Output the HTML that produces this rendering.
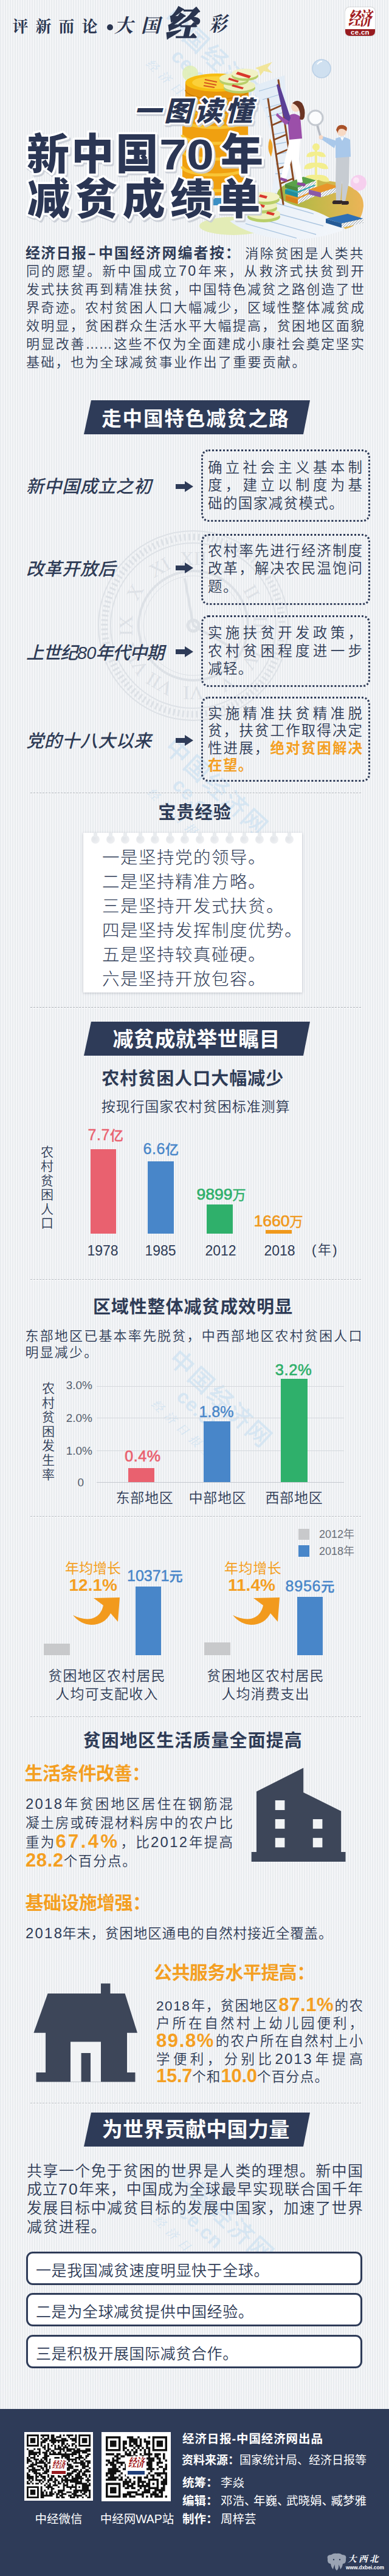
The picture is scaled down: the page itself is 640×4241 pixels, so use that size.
<!DOCTYPE html>
<html lang="zh-CN">
<head>
<meta charset="utf-8">
<title>一图读懂 新中国70年减贫成绩单</title>
<style>
html,body{margin:0;padding:0}
body{width:640px;height:4241px;position:relative;overflow:hidden;
  font-family:"Liberation Sans","Noto Sans CJK SC",sans-serif;color:#2e3b56;
  background:repeating-linear-gradient(90deg,#e9ecef 0,#e9ecef 2px,#f5f6f8 2px,#f5f6f8 4px);}
.a{position:absolute;white-space:nowrap;line-height:1;margin:0;padding:0}
.serif{font-family:"Liberation Serif","Noto Serif CJK SC",serif}
.b{font-weight:700!important}
.or{color:#f49f22!important}
.sep{position:absolute;left:50px;width:544px;height:0;border-top:1px dashed #a9aeb5}
.sep:after{content:"";position:absolute;left:0;top:0;width:100%;border-top:1px dashed #fff}
.banner{position:absolute;left:138px;width:372px;height:56px;background:#2e3b58;
  clip-path:polygon(12px 0,100% 0,calc(100% - 11px) 100%,0 100%)}
.bt{position:absolute;left:0;width:640px;text-align:center;color:#fff;font-weight:700;font-size:32.5px;letter-spacing:1.9px;line-height:1;white-space:nowrap;text-indent:1.9px}
.h2{position:absolute;left:0;width:640px;text-align:center;font-weight:700;font-size:28px;letter-spacing:1.7px;text-indent:1.7px;line-height:1;white-space:nowrap;color:#2e3b56}
.lab{position:absolute;left:43px;font-size:29px;font-style:italic;font-weight:500;letter-spacing:.5px;line-height:1;white-space:nowrap;color:#2e3b56}
.dbox{position:absolute;left:331px;width:278px;box-sizing:border-box;border:3px dotted #2e3b58;border-radius:12px}
.dtx{position:absolute;left:342px;width:254px;font-size:23.5px;line-height:1;white-space:nowrap;color:#2e3b56;letter-spacing:1.4px;font-weight:350}
.j{text-align:justify;text-align-last:justify;text-justify:inter-character;letter-spacing:0}
.hole{position:absolute;top:3.5px;width:14px;height:14px;border-radius:50%;background:radial-gradient(circle at 35% 40%,#e2e5e9 0,#eaecef 50%,#f3f4f6 100%)}
.hole:before{content:"";position:absolute;left:4px;top:-3.5px;width:6px;height:7px;background:#e9ecef}
.dn{margin-right:-4.5px}
.n{letter-spacing:1.6px}
.n2{font-size:1.06em;letter-spacing:2.3px;line-height:0;margin-right:-1.5px}
.rb{position:absolute;left:43px;width:553px;height:55px;box-sizing:border-box;border:3px solid #2e3b58;border-radius:11px;background:#fff;font-size:25px;line-height:50px;white-space:nowrap;letter-spacing:.6px;color:#2e3b56;font-weight:350}
.rb span{position:absolute;left:13px;top:2.5px}
.p{position:absolute;white-space:nowrap;line-height:1;color:#2e3b56;font-weight:350}
</style>
</head>
<body>

<!-- ============ HEADER ============ -->
<div class="a serif b" style="left:20.5px;top:32px;font-size:26px;letter-spacing:12px;color:#2a3550">评新而论</div>
<div class="a" style="left:175.5px;top:40px;width:10px;height:10px;border-radius:50%;background:#2a3550"></div>
<div class="a serif b" style="left:188px;top:27px;font-size:31px;letter-spacing:13px;color:#2a3550;font-style:italic">大国</div>
<div class="a serif" style="left:272px;top:12px;font-size:58px;font-weight:900;color:#2a3550;font-style:italic;transform:scaleX(.9);transform-origin:0 0;-webkit-text-stroke:1.6px #2a3550">经</div>
<div class="a serif b" style="left:344px;top:24px;font-size:33px;color:#2a3550;font-style:italic;transform:scaleX(.88);transform-origin:0 0">彩</div>

<!-- header watermark -->
<svg class="a" style="left:200px;top:0;z-index:-1" width="300" height="260" viewBox="200 0 300 260"><g fill="#cde2f2" opacity=".72" font-family="'Liberation Sans','Noto Sans CJK SC',sans-serif" font-weight="500" transform="translate(266 33) rotate(43)"><text x="0" y="0" font-size="40" letter-spacing="3">中国经济网</text><text x="52" y="36" font-size="32" font-weight="700" letter-spacing="1">ce.cn</text><text x="30" y="72" font-size="19" letter-spacing="9" font-family="'Liberation Serif','Noto Serif CJK SC',serif" font-style="italic">经济日报主办</text></g></svg>
<!-- header illustration -->
<svg class="a" style="left:0;top:0" width="640" height="400" viewBox="0 0 640 400">
 <defs>
  <pattern id="hatch" width="3" height="3" patternUnits="userSpaceOnUse" patternTransform="rotate(45)"><rect width="3" height="3" fill="#fff"/><rect width="1" height="3" fill="#9aa3ad"/></pattern>
  <linearGradient id="mound" x1="0" x2="1"><stop offset="0" stop-color="#9fb548"/><stop offset=".45" stop-color="#c3b94a"/><stop offset="1" stop-color="#ecb457"/></linearGradient>
  <linearGradient id="paper" x1="0" y1="0" x2="1" y2="1"><stop offset="0" stop-color="#dfeaf5"/><stop offset="1" stop-color="#f4f7fb"/></linearGradient>
 </defs>
 <!-- bubbles / plane -->
 <circle cx="529" cy="113" r="15" fill="#cfe0f0" stroke="#b9cfe6" stroke-width="1.5"/>
 <path d="M522 106 q3 -5 8 -5" stroke="#fff" stroke-width="2" fill="none"/>
 <circle cx="313" cy="121" r="13" fill="#dfeeb4" opacity=".85"/>
 <path d="M420 112 l28 -10 -8 10 8 8 -14 -3 -6 8 -2 -10z" fill="#f1e59a"/>
 <!-- paper scroll -->
 <ellipse cx="384" cy="372" rx="56" ry="15" fill="#e3ecb6"/>
 <path d="M412 143 L468 124 L482 300 L474 330 L578 352 L562 380 Q500 402 440 390 Q398 380 378 364 Q430 352 446 318 Q456 280 450 240 Q440 180 412 143Z" fill="url(#paper)"/>
 <g stroke="#a9c4df" stroke-width="1.3" fill="none">
  <path d="M426 150 l34 -10M432 164 l30 -9M437 178 l28 -8M441 192 l26 -7M445 206 l24 -6M448 222 l22 -5M451 238 l20 -4M453 254 l18 -3M454 270 l17 -2M453 286 l17 0"/>
  <path d="M452 318 l40 12M446 332 l70 20M436 346 l96 26M420 358 l100 28M404 368 l84 24"/>
 </g>
 <!-- tall gold stack behind title -->
 <path d="M300 176 v132 a54 14 0 0 0 108 0 v-132z" fill="#f0a010"/>
 <g stroke="#f9c93a" stroke-width="5" fill="none" opacity=".9">
  <path d="M300 196 a54 14 0 0 0 108 0M300 222 a54 14 0 0 0 108 0M300 248 a54 14 0 0 0 108 0M300 274 a54 14 0 0 0 108 0M300 300 a54 14 0 0 0 108 0"/>
 </g>
 <ellipse cx="354" cy="176" rx="54" ry="14" fill="#f7bd12"/>
 <path d="M336 326 h28 v12 h-28z" fill="#3b8fc4"/>
 <path d="M444 228 q8 10 2 30 q-8 -14 -2 -30z" fill="#f0a62a"/>
 <g transform="translate(11 -3)">
 <!-- big gold coin -->
 <path d="M294 139 v38 a52 15 0 0 0 104 0 v-38z" fill="#e8960c"/>
 <path d="M294 151 a52 15 0 0 0 104 0M294 163 a52 15 0 0 0 104 0" stroke="#c97a05" stroke-width="1.5" fill="none"/>
 <ellipse cx="346" cy="139" rx="52" ry="15" fill="#f7bd12"/>
 <ellipse cx="346" cy="139" rx="41" ry="10.5" fill="#fbd13a"/>
 <path d="M326 134 l20 4M325 139 l20 4M324 144 l18 3" stroke="#d6551f" stroke-width="2"/>
 <!-- pale coins -->
 <g>
  <ellipse cx="383" cy="148" rx="26" ry="9" fill="#b9cf6a"/><ellipse cx="383" cy="144" rx="26" ry="9" fill="#eef0bf"/>
  <ellipse cx="374" cy="136" rx="24" ry="8" fill="#b9cf6a"/><ellipse cx="374" cy="132" rx="24" ry="8" fill="#eef0bf"/>
  <ellipse cx="392" cy="128" rx="22" ry="8" fill="#b9cf6a"/><ellipse cx="392" cy="124" rx="22" ry="8" fill="#f2f2c6"/>
  <path d="M380 121 l22 7 -3 4 -22 -7z" fill="#d9362b"/><path d="M366 131 l16 5 -2 3 -16 -5z" fill="#d9362b"/><path d="M372 142 l18 5 -2 3 -18 -5z" fill="#d9362b"/>
 </g>
 </g>
 <!-- mound -->
 <path d="M455 322 Q458 296 520 296 Q600 300 598 340 Q594 372 568 377 Q540 352 500 342 Q470 336 455 322Z" fill="url(#mound)"/>
 <!-- bottom coins -->
 <g>
  <ellipse cx="434" cy="357" rx="27" ry="9" fill="#b9cf6a"/><ellipse cx="434" cy="352" rx="27" ry="9" fill="#eef0bf"/>
  <ellipse cx="430" cy="343" rx="26" ry="8.5" fill="#b9cf6a"/><ellipse cx="430" cy="338" rx="26" ry="8.5" fill="#eef0bf"/>
  <ellipse cx="436" cy="329" rx="24" ry="8" fill="#b9cf6a"/><ellipse cx="436" cy="324" rx="24" ry="8" fill="#f2f2c6"/>
  <path d="M428 320 l12 3 -2 4 -12 -3zM424 335 l12 3 -2 4 -12 -3zM440 348 l12 3 -2 4 -12 -3z" fill="#d9362b"/>
 </g>
 <!-- fern -->
 <g fill="#f3ee8e">
  <path d="M518 318 v-74 h4 v74z"/>
  <path d="M520 250 q-14 -2 -16 8 q10 2 16 -4zM520 250 q14 -2 16 8 q-10 2 -16 -4zM520 268 q-18 -2 -20 10 q12 2 20 -5zM520 268 q18 -2 20 10 q-12 2 -20 -5zM520 288 q-20 -2 -22 11 q13 2 22 -6zM520 288 q20 -2 22 11 q-13 2 -22 -6z"/>
  <circle cx="520" cy="242" r="6"/>
 </g>
 <!-- ladder -->
 <g stroke="#8a4a22" stroke-width="3" fill="none" stroke-linecap="round">
  <path d="M441 163 L466 336M458 132 L486 318"/>
  <path d="M444 182 l18 -8M448 206 l18 -8M451 230 l19 -8M455 254 l19 -8M458 278 l20 -8M462 302 l20 -8" stroke-width="2.5"/>
 </g>
 <!-- books -->
 <g>
  <path d="M470 322 l30 -14 20 6 -30 14z" fill="#e8952a"/>
  <path d="M490 328 l30 -14 v8 l-30 14z" fill="url(#hatch)"/>
  <path d="M470 322 l20 6 v8 l-20 -6z" fill="#d8811a"/>
  <path d="M469 312 l30 -13 21 6 -30 13z" fill="#2aa7b8"/>
  <path d="M490 318 l30 -13 v7 l-30 13z" fill="url(#hatch)"/>
  <path d="M469 312 l21 6 v7 l-21 -6z" fill="#1f8d9c"/>
  <path d="M469 303 l30 -12 21 6 -30 12z" fill="#5aa24a"/>
  <path d="M490 309 l30 -12 v6 l-30 12z" fill="url(#hatch)"/>
  <path d="M469 303 l21 6 v6 l-21 -6z" fill="#4a8a3c"/>
  <path d="M508 312 l30 -10 20 5 -30 10z" fill="#e8952a"/>
  <path d="M528 317 l30 -10 v8 l-30 10z" fill="url(#hatch)"/>
  <path d="M508 312 l20 5 v8 l-20 -5z" fill="#8a5aa8"/>
  <path d="M536 360 l36 -8 26 8 -36 8z" fill="#2e6fb5"/>
  <path d="M562 368 l36 -8 v7 l-36 8z" fill="url(#hatch)"/>
  <path d="M536 360 l26 8 v7 l-26 -8z" fill="#245a96"/>
 </g>
 <!-- pink bubble -->
 <circle cx="590" cy="301" r="13" fill="#f6cfee"/><circle cx="586" cy="297" r="5" fill="#fbe6f6"/>
 <!-- woman -->
 <g>
  <path d="M477 228 L494 228 L492 262 L498 300 L490 302 L480 262 L470 296 L462 294 L470 258Z" fill="#ffffff"/>
  <path d="M490 300 l12 2 q2 4 -2 5 l-12 -3z" fill="#8e4aa0"/><path d="M462 292 l10 3 q2 4 -3 4 l-9 -3z" fill="#8e4aa0"/>
  <path d="M476 190 Q484 184 494 192 L497 228 L476 230 L474 206Z" fill="#9b4fa9"/>
  <path d="M478 194 L462 146 L458 138 L455 140 L466 190 L474 206Z" fill="#5a3f96"/>
  <path d="M476 200 L460 190 L456 186 L454 190 L470 206Z" fill="#9b4fa9"/>
  <circle cx="487" cy="176" r="8" fill="#f7d9c4"/>
  <path d="M481 170 q8 -8 16 0 q6 10 4 22 q-2 8 -8 4 q2 -10 -2 -18 q-4 -6 -10 -8z" fill="#6b3423"/>
 </g>
 <!-- magnifier -->
 <path d="M522 206 l6 22" stroke="#b7bcc4" stroke-width="3.5" stroke-linecap="round"/>
 <circle cx="519" cy="194" r="12" fill="#fbfcfd" stroke="#c4c9d0" stroke-width="3"/>
 <!-- man -->
 <g>
  <path d="M553 258 L575 256 L574 300 L568 332 L562 332 L563 296 L560 332 L553 331 L552 296Z" fill="#c7ccd2"/>
  <path d="M549 330 l14 0 q2 5 -3 6 l-12 0 q-3 -3 1 -6zM563 331 l10 0 q3 5 -2 6 l-9 0z" fill="#33272a"/>
  <path d="M552 228 Q564 222 576 230 L577 258 L552 260Z" fill="#a9c8ea"/>
  <path d="M554 232 L530 224 L527 228 L550 244Z" fill="#a9c8ea"/>
  <circle cx="528" cy="226" r="3.5" fill="#f7d9c4"/>
  <path d="M560 226 l6 0 -3 6z" fill="#fff"/>
  <circle cx="562" cy="216" r="8" fill="#f7d9c4"/>
  <path d="M553 214 q2 -10 12 -8 q8 2 5 10 q-6 -6 -12 -3 q-2 2 -2 6z" fill="#a9522a"/>
 </g>
</svg>
<!-- ce.cn logo -->
<div class="a" style="left:568px;top:12px;width:49px;height:47px;border-radius:7px;background:#fff;box-shadow:0 0 2px rgba(0,0,0,.35);overflow:hidden">
 <div class="a serif" style="left:5px;top:3px;font-size:20px;font-weight:900;color:#a31d22;letter-spacing:-1.5px;font-style:italic;transform:scaleY(1.5);transform-origin:0 0">经济</div>
 <div class="a" style="left:0;top:36px;width:49px;height:11px;background:#971b20"></div>
 <div class="a b" style="left:0;top:35.5px;width:49px;text-align:center;font-size:11.5px;color:#fff;letter-spacing:.3px">ce.cn</div>
</div>
<!--HEADER-ART-->

<!-- title -->
<svg class="a" style="left:0;top:140px" width="640" height="240" viewBox="0 140 640 240">
 <g font-family="'Liberation Sans','Noto Sans CJK SC',sans-serif" font-weight="900" fill="#2b3654" stroke="#ffffff" stroke-linejoin="round" paint-order="stroke">
  <g transform="translate(2,3)" fill="#c9ced6" stroke="#c9ced6" opacity=".9">
   <text x="220" y="199" font-size="45" stroke-width="6" font-style="italic" letter-spacing="5">一图读懂</text>
   <text x="44" y="279" font-size="70" stroke-width="7" letter-spacing="3.2">新中国</text>
   <text x="262" y="279" font-size="70" stroke-width="7" textLength="90" lengthAdjust="spacingAndGlyphs">70</text>
   <text x="363" y="279" font-size="70" stroke-width="7">年</text>
   <text x="45" y="353" font-size="70" stroke-width="7" letter-spacing="8.4">减贫成绩单</text>
  </g>
   <text x="220" y="199" font-size="45" stroke-width="6" font-style="italic" letter-spacing="5">一图读懂</text>
   <text x="44" y="279" font-size="70" stroke-width="7" letter-spacing="3.2">新中国</text>
   <text x="262" y="279" font-size="70" stroke-width="7" textLength="90" lengthAdjust="spacingAndGlyphs">70</text>
   <text x="363" y="279" font-size="70" stroke-width="7">年</text>
   <text x="45" y="353" font-size="70" stroke-width="7" letter-spacing="8.4">减贫成绩单</text>
 </g>
</svg>
<!--TITLE-->

<!-- intro paragraph -->
<div class="p" style="left:43px;top:401.5px;width:556px;font-size:22px;line-height:30px">
<div style="display:flex;justify-content:space-between;align-items:baseline;height:30px"><b style="letter-spacing:1.25px;font-size:24px;line-height:30px;margin-left:-1px">经济日报<span style="display:inline-block;transform:scaleX(1.7);margin:0 7px 0 4px;letter-spacing:0">-</span><span style="letter-spacing:2.1px">中国经济网编者按</span>：</b><span style="letter-spacing:2.6px;margin-right:-1px">消除贫困是人类共</span></div>
<div class="j">同的愿望。新中国成立<span class="n2">70</span>年来，从救济式扶贫到开</div>
<div class="j">发式扶贫再到精准扶贫，中国特色减贫之路创造了世</div>
<div class="j">界奇迹。农村贫困人口大幅减少，区域性整体减贫成</div>
<div class="j">效明显，贫困群众生活水平大幅提高，贫困地区面貌</div>
<div class="j">明显改善……这些不仅为全面建成小康社会奠定坚实</div>
<div style="letter-spacing:2.3px">基础，也为全球减贫事业作出了重要贡献。</div>
</div>
<!-- ============ SECTION 1 ============ -->
<!-- clock watermark -->
<svg class="a" style="left:150px;top:860px;z-index:-1" width="340" height="340" viewBox="150 860 340 340">
 <g fill="none" stroke="#dde1e6" stroke-width="2">
  <circle cx="318" cy="1030" r="156"/><circle cx="318" cy="1030" r="146" stroke-width="11" stroke-dasharray="3.2 4.44"/>
  <circle cx="318" cy="1030" r="136"/><circle cx="318" cy="1030" r="90" stroke-width="4"/><circle cx="318" cy="1030" r="82" stroke-width="1"/>
  <path d="M318 1030 l-14 -78M318 1030 l70 40" stroke-width="4"/><circle cx="318" cy="1030" r="9" stroke-width="5"/>
 </g>
 <g fill="#dde1e6" font-family="'Liberation Serif',serif" font-size="32" text-anchor="middle"><text transform="rotate(0 318 1030)" x="318" y="930">XII</text><text transform="rotate(30 318 1030)" x="318" y="930">I</text><text transform="rotate(60 318 1030)" x="318" y="930">II</text><text transform="rotate(90 318 1030)" x="318" y="930">III</text><text transform="rotate(120 318 1030)" x="318" y="930">IV</text><text transform="rotate(150 318 1030)" x="318" y="930">V</text><text transform="rotate(180 318 1030)" x="318" y="930">VI</text><text transform="rotate(210 318 1030)" x="318" y="930">VII</text><text transform="rotate(240 318 1030)" x="318" y="930">VIII</text><text transform="rotate(270 318 1030)" x="318" y="930">IX</text><text transform="rotate(300 318 1030)" x="318" y="930">X</text><text transform="rotate(330 318 1030)" x="318" y="930">XI</text></g>
</svg>
<div class="banner" style="top:659px"></div>
<div class="bt" style="top:674px;left:1px">走中国特色减贫之路</div>

<div class="lab" style="top:787px">新中国成立之初</div>
<svg class="a" style="left:289px;top:792px" width="29" height="18" viewBox="0 0 29 18"><path d="M0 5h15V0l14 9-14 9v-5H0z" fill="#2e3b58"/></svg>
<div class="dbox" style="top:740px;height:119px"></div>
<div class="dtx" style="top:758.5px"><div class="j">确立社会主义基本制</div><div class="j" style="margin-top:6px">度，建立以制度为基</div><div style="margin-top:6px">础的国家减贫模式。</div></div>

<div class="lab" style="top:923px">改革开放后</div>
<svg class="a" style="left:289px;top:926px" width="29" height="18" viewBox="0 0 29 18"><path d="M0 5h15V0l14 9-14 9v-5H0z" fill="#2e3b58"/></svg>
<div class="dbox" style="top:879px;height:117px"></div>
<div class="dtx" style="top:895.5px"><div class="j">农村率先进行经济制度</div><div class="j" style="margin-top:6px">改革，解决农民温饱问</div><div style="margin-top:6px">题。</div></div>

<div class="lab" style="top:1061px;letter-spacing:-1px">上世纪80年代中期</div>
<svg class="a" style="left:289px;top:1064px" width="29" height="18" viewBox="0 0 29 18"><path d="M0 5h15V0l14 9-14 9v-5H0z" fill="#2e3b58"/></svg>
<div class="dbox" style="top:1012.5px;height:118px"></div>
<div class="dtx" style="top:1031px"><div class="j">实施扶贫开发政策，</div><div class="j" style="margin-top:6px">农村贫困程度进一步</div><div style="margin-top:6px">减轻。</div></div>

<div class="lab" style="top:1206px">党的十八大以来</div>
<svg class="a" style="left:289px;top:1210px" width="29" height="18" viewBox="0 0 29 18"><path d="M0 5h15V0l14 9-14 9v-5H0z" fill="#2e3b58"/></svg>
<div class="dbox" style="top:1147px;height:140px"></div>
<div class="dtx" style="top:1163.5px"><div class="j">实施精准扶贫精准脱</div><div class="j" style="margin-top:5px">贫，扶贫工作取得决定</div><div class="j" style="margin-top:5px">性进展，<b class="or">绝对贫困解决</b></div><div style="margin-top:5px"><b class="or">在望。</b></div></div>

<div class="sep" style="top:1304.5px"></div>
<!-- ============ SECTION 2 : notepad ============ -->
<!-- watermark -->
<svg class="a" style="left:188px;top:1173px;z-index:-1" width="300" height="300" viewBox="188 1173 300 300"><g fill="#cde2f2" opacity=".72" font-family="'Liberation Sans','Noto Sans CJK SC',sans-serif" font-weight="500" transform="translate(268 1233) rotate(43)"><text x="0" y="0" font-size="40" letter-spacing="3">中国经济网</text><text x="52" y="36" font-size="32" font-weight="700" letter-spacing="1">ce.cn</text><text x="30" y="72" font-size="19" letter-spacing="9" font-family="'Liberation Serif','Noto Serif CJK SC',serif" font-style="italic">经济日报主办</text></g></svg>
<div class="h2" style="top:1324px;font-size:29px;letter-spacing:1.2px;text-indent:1.2px">宝贵经验</div>
<div class="a" style="left:137px;top:1371px;width:360px;height:262.5px;background:#fff;box-shadow:0 1px 4px rgba(60,70,90,.28)"><div class="hole" style="left:13.0px"></div><div class="hole" style="left:37.5px"></div><div class="hole" style="left:62.0px"></div><div class="hole" style="left:86.5px"></div><div class="hole" style="left:111.0px"></div><div class="hole" style="left:135.5px"></div><div class="hole" style="left:160.0px"></div><div class="hole" style="left:184.5px"></div><div class="hole" style="left:209.0px"></div><div class="hole" style="left:233.5px"></div><div class="hole" style="left:258.0px"></div><div class="hole" style="left:282.5px"></div><div class="hole" style="left:307.0px"></div><div class="hole" style="left:331.5px"></div></div>
<div class="p" style="left:168px;top:1392.8px;font-size:28.5px;letter-spacing:1.5px;line-height:39.95px;font-weight:300">
<div>一是坚持党的领导。</div><div>二是坚持精准方略。</div><div>三是坚持开发式扶贫。</div><div>四是坚持发挥制度优势。</div><div>五是坚持较真碰硬。</div><div>六是坚持开放包容。</div>
</div>
<div class="sep" style="top:1658px"></div>
<!-- ============ SECTION 3 : charts ============ -->
<div class="banner" style="top:1682px"></div>
<div class="bt" style="top:1693.5px;left:3px;font-size:34px;letter-spacing:.4px;text-indent:.4px">减贫成就举世瞩目</div>
<div class="h2" style="top:1761.5px;font-size:29px;letter-spacing:1px;left:-3.5px">农村贫困人口大幅减少</div>
<div class="p" style="left:0;width:644px;text-align:center;top:1811px;font-size:23px;letter-spacing:.9px">按现行国家农村贫困标准测算</div>
<div class="p" style="left:66px;top:1885px;width:23px;font-size:21px;line-height:23.4px;text-align:center;white-space:normal">农<br>村<br>贫<br>困<br>人<br>口</div>
<div class="a" style="left:149px;top:1892px;width:42px;height:139px;background:#e9616f"></div>
<div class="a" style="left:243px;top:1912px;width:43px;height:119px;background:#4886c9"></div>
<div class="a" style="left:340px;top:1983px;width:43px;height:48px;background:#2fb06b"></div>
<div class="a" style="left:437px;top:2025px;width:43px;height:6px;background:#f0991c"></div>
<div class="p" style="left:120px;width:100px;text-align:center;top:1856px;font-size:25px;color:#e9616f;font-weight:500;left:124px;letter-spacing:.5px;-webkit-text-stroke:.4px #e9616f">7.7<span style="font-size:22px">亿</span></div>
<div class="p" style="left:215px;width:100px;text-align:center;top:1879px;font-size:25px;color:#4886c9;font-weight:500;letter-spacing:.5px;-webkit-text-stroke:.4px #4886c9">6.6<span style="font-size:22px">亿</span></div>
<div class="p" style="left:314px;width:100px;text-align:center;top:1953px;font-size:26.5px;color:#2fb06b;-webkit-text-stroke:.7px #2fb06b">9899<span style="font-size:22px">万</span></div>
<div class="p" style="left:408px;width:100px;text-align:center;top:1997px;font-size:26.5px;color:#f0991c;-webkit-text-stroke:.7px #f0991c">1660<span style="font-size:22px">万</span></div>
<div class="p" style="left:119px;width:100px;text-align:center;top:2048px;font-size:23px">1978</div>
<div class="p" style="left:214px;width:100px;text-align:center;top:2048px;font-size:23px">1985</div>
<div class="p" style="left:313px;width:100px;text-align:center;top:2048px;font-size:23px">2012</div>
<div class="p" style="left:410px;width:100px;text-align:center;top:2048px;font-size:23px">2018</div>
<div class="p" style="left:513px;top:2047px;font-size:22px;letter-spacing:2.5px">(年)</div>
<div class="sep" style="top:2106px;border-top-color:#b4b8be"></div>

<!-- watermark 3 -->
<svg class="a" style="left:195px;top:2180px;z-index:-1" width="300" height="300" viewBox="195 2180 300 300"><g fill="#cde2f2" opacity=".72" font-family="'Liberation Sans','Noto Sans CJK SC',sans-serif" font-weight="500" transform="translate(275 2240) rotate(43)"><text x="0" y="0" font-size="40" letter-spacing="3">中国经济网</text><text x="52" y="36" font-size="32" font-weight="700" letter-spacing="1">ce.cn</text><text x="30" y="72" font-size="19" letter-spacing="9" font-family="'Liberation Serif','Noto Serif CJK SC',serif" font-style="italic">经济日报主办</text></g></svg>
<div class="h2" style="top:2137.5px;left:-3.5px;font-size:29px;letter-spacing:.9px">区域性整体减贫成效明显</div>
<div class="p" style="left:41.5px;top:2187px;font-size:22px;letter-spacing:2.18px;line-height:26.7px"><div>东部地区已基本率先脱贫，中西部地区农村贫困人口</div><div>明显减少。</div></div>
<div class="p" style="left:68px;top:2274px;width:23px;font-size:21px;line-height:23.6px;text-align:center;white-space:normal">农<br>村<br>贫<br>困<br>发<br>生<br>率</div>
<div class="a" style="left:159px;top:2282px;width:407px;height:1px;background:#d4d8dd"></div>
<div class="a" style="left:159px;top:2334px;width:407px;height:1px;background:#d4d8dd"></div>
<div class="a" style="left:159px;top:2388px;width:407px;height:1px;background:#d4d8dd"></div>
<div class="a" style="left:159px;top:2440px;width:407px;height:1px;background:#c4c8ce"></div>
<div class="p" style="left:100px;width:52px;text-align:right;top:2271px;font-size:19px;color:#555e6e">3.0%</div>
<div class="p" style="left:100px;width:52px;text-align:right;top:2325px;font-size:19px;color:#555e6e">2.0%</div>
<div class="p" style="left:100px;width:52px;text-align:right;top:2379px;font-size:19px;color:#555e6e">1.0%</div>
<div class="p" style="left:100px;width:38px;text-align:right;top:2431px;font-size:19px;color:#555e6e">0</div>
<div class="a" style="left:211px;top:2417px;width:43px;height:23px;background:#e9616f"></div>
<div class="a" style="left:335px;top:2340px;width:44px;height:100px;background:#4886c9"></div>
<div class="a" style="left:462px;top:2270px;width:44px;height:170px;background:#2fb06b"></div>
<div class="p" style="left:185px;width:100px;text-align:center;top:2385px;font-size:25px;color:#e9616f;letter-spacing:.6px;-webkit-text-stroke:.7px #e9616f">0.4%</div>
<div class="p" style="left:306px;width:100px;text-align:center;top:2312px;font-size:25px;color:#4886c9;font-weight:500;-webkit-text-stroke:.4px #4886c9">1.8%</div>
<div class="p" style="left:433px;width:100px;text-align:center;top:2243px;font-size:25.5px;color:#2fb06b;letter-spacing:.6px;-webkit-text-stroke:.6px #2fb06b">3.2%</div>
<div class="p" style="left:183px;width:110px;text-align:center;top:2455px;font-size:23px;letter-spacing:.8px">东部地区</div>
<div class="p" style="left:303px;width:110px;text-align:center;top:2455px;font-size:23px;letter-spacing:.8px">中部地区</div>
<div class="p" style="left:429px;width:110px;text-align:center;top:2455px;font-size:23px;letter-spacing:.8px">西部地区</div>
<div class="sep" style="top:2496px;border-top-color:#b4b8be"></div>
<!-- ============ SECTION 4 : income ============ -->
<div class="a" style="left:491px;top:2517px;width:18px;height:18px;background:#c8c9cb"></div>
<div class="a" style="left:491px;top:2544px;width:18px;height:19px;background:#4886c9"></div>
<div class="p" style="left:525px;top:2517px;font-size:18px;color:#6a6f78">2012年</div>
<div class="p" style="left:525px;top:2545px;font-size:18px;color:#6a6f78">2018年</div>

<div class="p or" style="left:107px;top:2571px;font-size:23px;font-weight:400">年均增长</div>
<div class="p or b" style="left:113.5px;top:2595.5px;font-size:28px">12.1%</div>
<div class="p" style="left:209px;top:2582px;font-size:25px;color:#4886c9;font-weight:500;-webkit-text-stroke:.5px #4886c9">10371<span style="font-size:22px">元</span></div>
<div class="a" style="left:223px;top:2612px;width:42px;height:113px;background:#4886c9"></div>
<div class="a" style="left:72px;top:2706px;width:43px;height:19px;background:#c8c9cb"></div>
<svg class="a" style="left:116px;top:2626px" width="84" height="54" viewBox="116 2626 84 54"><path d="M120 2659 Q135 2667 150 2665 Q166 2661 170 2643 L154 2631 L197 2630 L194 2670 L182 2656 Q172 2675 150 2675 Q132 2674 120 2659Z" fill="#f29a1d"/></svg>
<div class="p" style="left:76px;width:200px;text-align:center;top:2743.5px;font-size:23px;letter-spacing:1.2px;line-height:30.5px;white-space:normal">贫困地区农村居民<br>人均可支配收入</div>

<div class="p or" style="left:369px;top:2571px;font-size:23px;font-weight:400;letter-spacing:.6px">年均增长</div>
<div class="p or b" style="left:375px;top:2595.5px;font-size:28px">11.4%</div>
<div class="p" style="left:469.5px;top:2598.5px;font-size:25px;color:#4886c9;font-weight:500;letter-spacing:.8px;-webkit-text-stroke:.5px #4886c9">8956<span style="font-size:22px">元</span></div>
<div class="a" style="left:489px;top:2629px;width:42px;height:96px;background:#4886c9"></div>
<div class="a" style="left:336px;top:2704px;width:43px;height:21px;background:#c8c9cb"></div>
<svg class="a" style="left:379px;top:2626px" width="84" height="54" viewBox="116 2626 84 54"><path d="M120 2659 Q135 2667 150 2665 Q166 2661 170 2643 L154 2631 L197 2630 L194 2670 L182 2656 Q172 2675 150 2675 Q132 2674 120 2659Z" fill="#f29a1d"/></svg>
<div class="p" style="left:337px;width:200px;text-align:center;top:2743.5px;font-size:23px;letter-spacing:1.2px;line-height:30.5px;white-space:normal">贫困地区农村居民<br>人均消费支出</div>
<div class="sep" style="top:2826px;border-top-color:#b4b8be"></div>
<!-- ============ SECTION 5 : living ============ -->
<div class="h2" style="top:2851.5px;left:-3.5px;font-size:29px;letter-spacing:1.1px">贫困地区生活质量全面提高</div>
<div class="p or b" style="left:40.5px;top:2905px;font-size:30px;letter-spacing:-.6px">生活条件改善：</div>
<div class="p" style="left:42px;top:2955px;width:341px;font-size:22.5px;line-height:31.3px">
<div class="j"><span class="n2">2018</span>年贫困地区居住在钢筋混</div>
<div class="j">凝土房或砖混材料房中的农户比</div>
<div class="j">重为<b class="or" style="font-size:31px;line-height:0;position:relative;top:1.5px;letter-spacing:3.4px">67.4%</b>，比<span class="n2">2012</span>年提高</div>
<div style="letter-spacing:1.6px"><b class="or" style="font-size:31px;line-height:0;position:relative;top:1.5px;letter-spacing:.6px">28.2</b>个百分点。</div>
</div>
<svg class="a" style="left:410px;top:2905px" width="165" height="165" viewBox="410 2905 165 165">
 <path d="M422 3049V2949.6L499.2 2910.5V2951L561.2 2981.8V3049H568.5V3065H413.7V3049Z" fill="#3d4659"/>
 <g fill="#f1f3f5"><rect x="452.8" y="2964" width="15.6" height="16"/><rect x="452.8" y="2995" width="15.6" height="15.7"/><rect x="452.8" y="3025.8" width="15.6" height="15.6"/><rect x="514.8" y="2995" width="15.6" height="15.7"/><rect x="514.8" y="3025.8" width="15.6" height="15.6"/></g>
</svg>

<div class="p or b" style="left:41.5px;top:3117.5px;font-size:30px;letter-spacing:-.6px">基础设施增强：</div>
<div class="p" style="left:42px;top:3172.5px;font-size:22.5px;letter-spacing:.9px"><span class="n2">2018</span>年末，贫困地区通电的自然村接近全覆盖。</div>

<div class="p or b" style="left:253px;top:3233px;font-size:30px;letter-spacing:-.6px">公共服务水平提高：</div>
<div class="p" style="left:257px;top:3287.6px;width:340px;font-size:22.5px;line-height:29.35px">
<div class="j"><span class="n">2018</span>年，贫困地区<b class="or" style="font-size:31px;line-height:0;position:relative;top:1.5px;letter-spacing:.6px">87.1%</b>的农</div>
<div class="j">户所在自然村上幼儿园便利，</div>
<div class="j"><b class="or" style="font-size:31px;line-height:0;position:relative;top:1.5px;letter-spacing:1.6px">89.8%</b>的农户所在自然村上小</div>
<div class="j">学便利，分别比<span class="n2">2013</span>年提高</div>
<div style="letter-spacing:1.2px"><b class="or" style="font-size:31px;line-height:0;position:relative;top:1.5px;letter-spacing:-.3px">15.7</b>个和<b class="or" style="font-size:31px;line-height:0;position:relative;top:1.5px;letter-spacing:-.3px">10.0</b>个百分点。</div>
</div>
<svg class="a" style="left:50px;top:3260px" width="185" height="175" viewBox="50 3260 185 175">
 <path d="M166 3282V3265.4H181.4V3282H205.6L226 3346.7H209V3412H222.5V3427.5H59.5V3412H75V3346.7H55.4L78.6 3282Z" fill="#3d4659"/>
 <path d="M116 3427.5V3361.6H166V3427.5H149V3380H133.6V3427.5Z" fill="#f1f3f5"/>
</svg>
<div class="sep" style="top:3462px;border-top-color:#b4b8be"></div>
<!-- ============ SECTION 6 : world ============ -->
<!-- watermark 4 -->
<svg class="a" style="left:198px;top:3523px;z-index:-1" width="300" height="300" viewBox="198 3523 300 300"><g fill="#cde2f2" opacity=".72" font-family="'Liberation Sans','Noto Sans CJK SC',sans-serif" font-weight="500" transform="translate(278 3583) rotate(43)"><text x="0" y="0" font-size="40" letter-spacing="3">中国经济网</text><text x="52" y="36" font-size="32" font-weight="700" letter-spacing="1">ce.cn</text><text x="30" y="72" font-size="19" letter-spacing="9" font-family="'Liberation Serif','Noto Serif CJK SC',serif" font-style="italic">经济日报主办</text></g></svg>
<div class="banner" style="top:3478px"></div>
<div class="bt" style="top:3489px;left:2px;font-size:34px;letter-spacing:.3px;text-indent:.3px">为世界贡献中国力量</div>
<div class="p" style="left:44px;top:3558.5px;width:553px;font-size:25px;line-height:30.8px;font-weight:350">
<div class="j">共享一个免于贫困的世界是人类的理想。新中国</div>
<div class="j">成立<span class="n2">70</span>年来，中国成为全球最早实现联合国千年</div>
<div class="j">发展目标中减贫目标的发展中国家，加速了世界</div>
<div style="letter-spacing:1.4px">减贫进程。</div>
</div>
<div class="rb" style="top:3707px"><span>一是我国减贫速度明显快于全球。</span></div>
<div class="rb" style="top:3775px"><span>二是为全球减贫提供中国经验。</span></div>
<div class="rb" style="top:3844px"><span>三是积极开展国际减贫合作。</span></div>

<!-- ============ FOOTER ============ -->
<div class="a" style="left:0;top:3966px;width:640px;height:275px;background:#2e3b58"></div>
<div class="a" style="left:40px;top:4004px;width:113px;height:113px;background:#fff"></div>
<svg class="a" style="left:44px;top:4008px" width="105" height="105" viewBox="0 0 105 105"><path d="M0.00 0.00h19.91v2.89h-19.91zM22.70 0.00h14.24v2.89h-14.24zM39.73 0.00h5.73v2.89h-5.73zM53.92 0.00h2.89v2.89h-2.89zM59.59 0.00h2.89v2.89h-2.89zM65.27 0.00h11.40v2.89h-11.40zM79.46 0.00h2.89v2.89h-2.89zM85.14 0.00h19.91v2.89h-19.91zM0.00 2.84h2.89v2.89h-2.89zM17.03 2.84h2.89v2.89h-2.89zM25.54 2.84h2.89v2.89h-2.89zM34.05 2.84h2.89v2.89h-2.89zM39.73 2.84h5.73v2.89h-5.73zM48.24 2.84h8.56v2.89h-8.56zM68.11 2.84h2.89v2.89h-2.89zM79.46 2.84h2.89v2.89h-2.89zM85.14 2.84h2.89v2.89h-2.89zM102.16 2.84h2.89v2.89h-2.89zM0.00 5.68h2.89v2.89h-2.89zM5.68 5.68h8.56v2.89h-8.56zM17.03 5.68h2.89v2.89h-2.89zM22.70 5.68h2.89v2.89h-2.89zM28.38 5.68h8.56v2.89h-8.56zM39.73 5.68h8.56v2.89h-8.56zM56.76 5.68h8.56v2.89h-8.56zM70.95 5.68h11.40v2.89h-11.40zM85.14 5.68h2.89v2.89h-2.89zM90.81 5.68h8.56v2.89h-8.56zM102.16 5.68h2.89v2.89h-2.89zM0.00 8.51h2.89v2.89h-2.89zM5.68 8.51h8.56v2.89h-8.56zM17.03 8.51h2.89v2.89h-2.89zM25.54 8.51h8.56v2.89h-8.56zM36.89 8.51h31.27v2.89h-31.27zM73.78 8.51h8.56v2.89h-8.56zM85.14 8.51h2.89v2.89h-2.89zM90.81 8.51h8.56v2.89h-8.56zM102.16 8.51h2.89v2.89h-2.89zM0.00 11.35h2.89v2.89h-2.89zM5.68 11.35h8.56v2.89h-8.56zM17.03 11.35h2.89v2.89h-2.89zM22.70 11.35h8.56v2.89h-8.56zM39.73 11.35h8.56v2.89h-8.56zM51.08 11.35h2.89v2.89h-2.89zM56.76 11.35h5.73v2.89h-5.73zM79.46 11.35h2.89v2.89h-2.89zM85.14 11.35h2.89v2.89h-2.89zM90.81 11.35h8.56v2.89h-8.56zM102.16 11.35h2.89v2.89h-2.89zM0.00 14.19h2.89v2.89h-2.89zM17.03 14.19h2.89v2.89h-2.89zM22.70 14.19h2.89v2.89h-2.89zM34.05 14.19h2.89v2.89h-2.89zM42.57 14.19h2.89v2.89h-2.89zM56.76 14.19h5.73v2.89h-5.73zM65.27 14.19h2.89v2.89h-2.89zM73.78 14.19h5.73v2.89h-5.73zM85.14 14.19h2.89v2.89h-2.89zM102.16 14.19h2.89v2.89h-2.89zM0.00 17.03h19.91v2.89h-19.91zM22.70 17.03h2.89v2.89h-2.89zM28.38 17.03h2.89v2.89h-2.89zM34.05 17.03h2.89v2.89h-2.89zM39.73 17.03h2.89v2.89h-2.89zM45.41 17.03h2.89v2.89h-2.89zM51.08 17.03h2.89v2.89h-2.89zM56.76 17.03h2.89v2.89h-2.89zM62.43 17.03h2.89v2.89h-2.89zM68.11 17.03h2.89v2.89h-2.89zM73.78 17.03h2.89v2.89h-2.89zM79.46 17.03h2.89v2.89h-2.89zM85.14 17.03h19.91v2.89h-19.91zM25.54 19.86h5.73v2.89h-5.73zM34.05 19.86h2.89v2.89h-2.89zM45.41 19.86h2.89v2.89h-2.89zM51.08 19.86h5.73v2.89h-5.73zM59.59 19.86h8.56v2.89h-8.56zM79.46 19.86h2.89v2.89h-2.89zM0.00 22.70h2.89v2.89h-2.89zM11.35 22.70h2.89v2.89h-2.89zM17.03 22.70h5.73v2.89h-5.73zM28.38 22.70h2.89v2.89h-2.89zM34.05 22.70h5.73v2.89h-5.73zM45.41 22.70h17.08v2.89h-17.08zM65.27 22.70h14.24v2.89h-14.24zM82.30 22.70h5.73v2.89h-5.73zM96.49 22.70h8.56v2.89h-8.56zM2.84 25.54h8.56v2.89h-8.56zM19.86 25.54h2.89v2.89h-2.89zM31.22 25.54h5.73v2.89h-5.73zM39.73 25.54h5.73v2.89h-5.73zM53.92 25.54h2.89v2.89h-2.89zM59.59 25.54h2.89v2.89h-2.89zM65.27 25.54h8.56v2.89h-8.56zM76.62 25.54h28.43v2.89h-28.43zM2.84 28.38h19.91v2.89h-19.91zM25.54 28.38h8.56v2.89h-8.56zM36.89 28.38h2.89v2.89h-2.89zM42.57 28.38h5.73v2.89h-5.73zM51.08 28.38h5.73v2.89h-5.73zM62.43 28.38h2.89v2.89h-2.89zM73.78 28.38h14.24v2.89h-14.24zM90.81 28.38h8.56v2.89h-8.56zM2.84 31.22h14.24v2.89h-14.24zM19.86 31.22h2.89v2.89h-2.89zM28.38 31.22h5.73v2.89h-5.73zM36.89 31.22h45.46v2.89h-45.46zM85.14 31.22h2.89v2.89h-2.89zM99.32 31.22h5.73v2.89h-5.73zM2.84 34.05h2.89v2.89h-2.89zM11.35 34.05h2.89v2.89h-2.89zM17.03 34.05h2.89v2.89h-2.89zM28.38 34.05h8.56v2.89h-8.56zM56.76 34.05h14.24v2.89h-14.24zM73.78 34.05h2.89v2.89h-2.89zM85.14 34.05h5.73v2.89h-5.73zM96.49 34.05h5.73v2.89h-5.73zM0.00 36.89h2.89v2.89h-2.89zM5.68 36.89h8.56v2.89h-8.56zM25.54 36.89h8.56v2.89h-8.56zM45.41 36.89h8.56v2.89h-8.56zM56.76 36.89h2.89v2.89h-2.89zM62.43 36.89h8.56v2.89h-8.56zM79.46 36.89h14.24v2.89h-14.24zM96.49 36.89h2.89v2.89h-2.89zM0.00 39.73h5.73v2.89h-5.73zM11.35 39.73h8.56v2.89h-8.56zM22.70 39.73h2.89v2.89h-2.89zM28.38 39.73h5.73v2.89h-5.73zM36.89 39.73h2.89v2.89h-2.89zM65.27 39.73h17.08v2.89h-17.08zM85.14 39.73h2.89v2.89h-2.89zM93.65 39.73h2.89v2.89h-2.89zM0.00 42.57h8.56v2.89h-8.56zM14.19 42.57h2.89v2.89h-2.89zM19.86 42.57h8.56v2.89h-8.56zM31.22 42.57h2.89v2.89h-2.89zM36.89 42.57h2.89v2.89h-2.89zM68.11 42.57h2.89v2.89h-2.89zM73.78 42.57h2.89v2.89h-2.89zM79.46 42.57h2.89v2.89h-2.89zM87.97 42.57h5.73v2.89h-5.73zM96.49 42.57h8.56v2.89h-8.56zM0.00 45.41h2.89v2.89h-2.89zM8.51 45.41h2.89v2.89h-2.89zM14.19 45.41h17.08v2.89h-17.08zM34.05 45.41h5.73v2.89h-5.73zM65.27 45.41h2.89v2.89h-2.89zM76.62 45.41h19.91v2.89h-19.91zM99.32 45.41h5.73v2.89h-5.73zM5.68 48.24h11.40v2.89h-11.40zM28.38 48.24h5.73v2.89h-5.73zM65.27 48.24h8.56v2.89h-8.56zM87.97 48.24h8.56v2.89h-8.56zM99.32 48.24h2.89v2.89h-2.89zM2.84 51.08h8.56v2.89h-8.56zM17.03 51.08h8.56v2.89h-8.56zM28.38 51.08h5.73v2.89h-5.73zM36.89 51.08h2.89v2.89h-2.89zM68.11 51.08h8.56v2.89h-8.56zM79.46 51.08h5.73v2.89h-5.73zM90.81 51.08h11.40v2.89h-11.40zM0.00 53.92h2.89v2.89h-2.89zM8.51 53.92h5.73v2.89h-5.73zM22.70 53.92h5.73v2.89h-5.73zM31.22 53.92h2.89v2.89h-2.89zM36.89 53.92h2.89v2.89h-2.89zM65.27 53.92h11.40v2.89h-11.40zM90.81 53.92h5.73v2.89h-5.73zM102.16 53.92h2.89v2.89h-2.89zM2.84 56.76h19.91v2.89h-19.91zM25.54 56.76h2.89v2.89h-2.89zM31.22 56.76h5.73v2.89h-5.73zM65.27 56.76h5.73v2.89h-5.73zM76.62 56.76h8.56v2.89h-8.56zM87.97 56.76h2.89v2.89h-2.89zM96.49 56.76h5.73v2.89h-5.73zM2.84 59.59h2.89v2.89h-2.89zM8.51 59.59h8.56v2.89h-8.56zM28.38 59.59h8.56v2.89h-8.56zM73.78 59.59h8.56v2.89h-8.56zM85.14 59.59h5.73v2.89h-5.73zM93.65 59.59h11.40v2.89h-11.40zM0.00 62.43h2.89v2.89h-2.89zM11.35 62.43h11.40v2.89h-11.40zM25.54 62.43h8.56v2.89h-8.56zM65.27 62.43h11.40v2.89h-11.40zM82.30 62.43h5.73v2.89h-5.73zM90.81 62.43h5.73v2.89h-5.73zM0.00 65.27h5.73v2.89h-5.73zM14.19 65.27h2.89v2.89h-2.89zM19.86 65.27h5.73v2.89h-5.73zM34.05 65.27h2.89v2.89h-2.89zM39.73 65.27h5.73v2.89h-5.73zM51.08 65.27h2.89v2.89h-2.89zM59.59 65.27h14.24v2.89h-14.24zM79.46 65.27h8.56v2.89h-8.56zM90.81 65.27h8.56v2.89h-8.56zM102.16 65.27h2.89v2.89h-2.89zM0.00 68.11h11.40v2.89h-11.40zM14.19 68.11h5.73v2.89h-5.73zM22.70 68.11h8.56v2.89h-8.56zM34.05 68.11h2.89v2.89h-2.89zM39.73 68.11h5.73v2.89h-5.73zM51.08 68.11h5.73v2.89h-5.73zM59.59 68.11h5.73v2.89h-5.73zM68.11 68.11h2.89v2.89h-2.89zM73.78 68.11h2.89v2.89h-2.89zM79.46 68.11h11.40v2.89h-11.40zM96.49 68.11h2.89v2.89h-2.89zM102.16 68.11h2.89v2.89h-2.89zM0.00 70.95h11.40v2.89h-11.40zM14.19 70.95h2.89v2.89h-2.89zM25.54 70.95h5.73v2.89h-5.73zM36.89 70.95h5.73v2.89h-5.73zM45.41 70.95h2.89v2.89h-2.89zM56.76 70.95h2.89v2.89h-2.89zM62.43 70.95h5.73v2.89h-5.73zM73.78 70.95h19.91v2.89h-19.91zM99.32 70.95h2.89v2.89h-2.89zM2.84 73.78h2.89v2.89h-2.89zM8.51 73.78h2.89v2.89h-2.89zM14.19 73.78h11.40v2.89h-11.40zM28.38 73.78h2.89v2.89h-2.89zM34.05 73.78h8.56v2.89h-8.56zM45.41 73.78h5.73v2.89h-5.73zM56.76 73.78h28.43v2.89h-28.43zM87.97 73.78h2.89v2.89h-2.89zM96.49 73.78h8.56v2.89h-8.56zM0.00 76.62h2.89v2.89h-2.89zM5.68 76.62h2.89v2.89h-2.89zM19.86 76.62h2.89v2.89h-2.89zM25.54 76.62h2.89v2.89h-2.89zM34.05 76.62h2.89v2.89h-2.89zM42.57 76.62h5.73v2.89h-5.73zM51.08 76.62h2.89v2.89h-2.89zM56.76 76.62h2.89v2.89h-2.89zM62.43 76.62h5.73v2.89h-5.73zM70.95 76.62h19.91v2.89h-19.91zM99.32 76.62h2.89v2.89h-2.89zM0.00 79.46h5.73v2.89h-5.73zM8.51 79.46h2.89v2.89h-2.89zM14.19 79.46h5.73v2.89h-5.73zM22.70 79.46h2.89v2.89h-2.89zM31.22 79.46h2.89v2.89h-2.89zM36.89 79.46h2.89v2.89h-2.89zM45.41 79.46h2.89v2.89h-2.89zM51.08 79.46h5.73v2.89h-5.73zM59.59 79.46h2.89v2.89h-2.89zM65.27 79.46h2.89v2.89h-2.89zM79.46 79.46h19.91v2.89h-19.91zM102.16 79.46h2.89v2.89h-2.89zM28.38 82.30h2.89v2.89h-2.89zM34.05 82.30h5.73v2.89h-5.73zM42.57 82.30h8.56v2.89h-8.56zM59.59 82.30h8.56v2.89h-8.56zM73.78 82.30h2.89v2.89h-2.89zM79.46 82.30h2.89v2.89h-2.89zM90.81 82.30h14.24v2.89h-14.24zM0.00 85.14h19.91v2.89h-19.91zM22.70 85.14h2.89v2.89h-2.89zM31.22 85.14h11.40v2.89h-11.40zM51.08 85.14h2.89v2.89h-2.89zM59.59 85.14h2.89v2.89h-2.89zM65.27 85.14h17.08v2.89h-17.08zM85.14 85.14h2.89v2.89h-2.89zM90.81 85.14h11.40v2.89h-11.40zM0.00 87.97h2.89v2.89h-2.89zM17.03 87.97h2.89v2.89h-2.89zM22.70 87.97h2.89v2.89h-2.89zM34.05 87.97h2.89v2.89h-2.89zM39.73 87.97h5.73v2.89h-5.73zM59.59 87.97h2.89v2.89h-2.89zM70.95 87.97h2.89v2.89h-2.89zM79.46 87.97h2.89v2.89h-2.89zM90.81 87.97h11.40v2.89h-11.40zM0.00 90.81h2.89v2.89h-2.89zM5.68 90.81h8.56v2.89h-8.56zM17.03 90.81h2.89v2.89h-2.89zM22.70 90.81h2.89v2.89h-2.89zM28.38 90.81h2.89v2.89h-2.89zM39.73 90.81h2.89v2.89h-2.89zM51.08 90.81h11.40v2.89h-11.40zM76.62 90.81h28.43v2.89h-28.43zM0.00 93.65h2.89v2.89h-2.89zM5.68 93.65h8.56v2.89h-8.56zM17.03 93.65h2.89v2.89h-2.89zM22.70 93.65h5.73v2.89h-5.73zM31.22 93.65h2.89v2.89h-2.89zM36.89 93.65h5.73v2.89h-5.73zM45.41 93.65h2.89v2.89h-2.89zM51.08 93.65h8.56v2.89h-8.56zM65.27 93.65h8.56v2.89h-8.56zM76.62 93.65h8.56v2.89h-8.56zM87.97 93.65h2.89v2.89h-2.89zM93.65 93.65h5.73v2.89h-5.73zM102.16 93.65h2.89v2.89h-2.89zM0.00 96.49h2.89v2.89h-2.89zM5.68 96.49h8.56v2.89h-8.56zM17.03 96.49h2.89v2.89h-2.89zM22.70 96.49h5.73v2.89h-5.73zM31.22 96.49h2.89v2.89h-2.89zM36.89 96.49h8.56v2.89h-8.56zM48.24 96.49h5.73v2.89h-5.73zM56.76 96.49h8.56v2.89h-8.56zM73.78 96.49h8.56v2.89h-8.56zM90.81 96.49h5.73v2.89h-5.73zM102.16 96.49h2.89v2.89h-2.89zM0.00 99.32h2.89v2.89h-2.89zM17.03 99.32h2.89v2.89h-2.89zM22.70 99.32h19.91v2.89h-19.91zM48.24 99.32h2.89v2.89h-2.89zM53.92 99.32h5.73v2.89h-5.73zM68.11 99.32h5.73v2.89h-5.73zM76.62 99.32h14.24v2.89h-14.24zM96.49 99.32h2.89v2.89h-2.89zM102.16 99.32h2.89v2.89h-2.89zM0.00 102.16h19.91v2.89h-19.91zM22.70 102.16h5.73v2.89h-5.73zM48.24 102.16h5.73v2.89h-5.73zM56.76 102.16h5.73v2.89h-5.73zM70.95 102.16h8.56v2.89h-8.56zM82.30 102.16h2.89v2.89h-2.89zM90.81 102.16h2.89v2.89h-2.89zM99.32 102.16h5.73v2.89h-5.73z" fill="#111"/></svg>
<div class="a" style="left:83px;top:4048px;width:27px;height:27px;background:#fff;border-radius:3px;overflow:hidden"><div class="a serif" style="left:3px;top:2px;font-size:11px;font-weight:900;color:#a31d22;letter-spacing:-.5px;font-style:italic;transform:scaleY(1.4);transform-origin:0 0">经济</div><div class="a" style="left:2px;top:20px;width:23px;height:5px;background:#971b20"></div></div>
<div class="a" style="left:167px;top:4004px;width:114px;height:114px;background:#fff"></div>
<svg class="a" style="left:173.5px;top:4010.5px" width="101" height="101" viewBox="0 0 101 101"><path d="M0.00 0.00h24.43v3.53h-24.43zM34.83 0.00h10.50v3.53h-10.50zM52.24 0.00h3.53v3.53h-3.53zM69.66 0.00h3.53v3.53h-3.53zM76.62 0.00h24.43v3.53h-24.43zM0.00 3.48h3.53v3.53h-3.53zM20.90 3.48h3.53v3.53h-3.53zM38.31 3.48h13.98v3.53h-13.98zM55.72 3.48h3.53v3.53h-3.53zM62.69 3.48h3.53v3.53h-3.53zM76.62 3.48h3.53v3.53h-3.53zM97.52 3.48h3.53v3.53h-3.53zM0.00 6.97h3.53v3.53h-3.53zM6.97 6.97h10.50v3.53h-10.50zM20.90 6.97h3.53v3.53h-3.53zM27.86 6.97h7.02v3.53h-7.02zM38.31 6.97h13.98v3.53h-13.98zM55.72 6.97h3.53v3.53h-3.53zM62.69 6.97h10.50v3.53h-10.50zM76.62 6.97h3.53v3.53h-3.53zM83.59 6.97h10.50v3.53h-10.50zM97.52 6.97h3.53v3.53h-3.53zM0.00 10.45h3.53v3.53h-3.53zM6.97 10.45h10.50v3.53h-10.50zM20.90 10.45h3.53v3.53h-3.53zM27.86 10.45h7.02v3.53h-7.02zM38.31 10.45h3.53v3.53h-3.53zM45.28 10.45h7.02v3.53h-7.02zM55.72 10.45h3.53v3.53h-3.53zM66.17 10.45h7.02v3.53h-7.02zM76.62 10.45h3.53v3.53h-3.53zM83.59 10.45h10.50v3.53h-10.50zM97.52 10.45h3.53v3.53h-3.53zM0.00 13.93h3.53v3.53h-3.53zM6.97 13.93h10.50v3.53h-10.50zM20.90 13.93h3.53v3.53h-3.53zM27.86 13.93h3.53v3.53h-3.53zM38.31 13.93h7.02v3.53h-7.02zM48.76 13.93h10.50v3.53h-10.50zM66.17 13.93h3.53v3.53h-3.53zM76.62 13.93h3.53v3.53h-3.53zM83.59 13.93h10.50v3.53h-10.50zM97.52 13.93h3.53v3.53h-3.53zM0.00 17.41h3.53v3.53h-3.53zM20.90 17.41h3.53v3.53h-3.53zM27.86 17.41h7.02v3.53h-7.02zM45.28 17.41h3.53v3.53h-3.53zM52.24 17.41h3.53v3.53h-3.53zM59.21 17.41h3.53v3.53h-3.53zM66.17 17.41h7.02v3.53h-7.02zM76.62 17.41h3.53v3.53h-3.53zM97.52 17.41h3.53v3.53h-3.53zM0.00 20.90h24.43v3.53h-24.43zM27.86 20.90h3.53v3.53h-3.53zM34.83 20.90h3.53v3.53h-3.53zM41.79 20.90h3.53v3.53h-3.53zM48.76 20.90h3.53v3.53h-3.53zM55.72 20.90h3.53v3.53h-3.53zM62.69 20.90h3.53v3.53h-3.53zM69.66 20.90h3.53v3.53h-3.53zM76.62 20.90h24.43v3.53h-24.43zM31.34 24.38h3.53v3.53h-3.53zM38.31 24.38h3.53v3.53h-3.53zM45.28 24.38h7.02v3.53h-7.02zM62.69 24.38h3.53v3.53h-3.53zM69.66 24.38h3.53v3.53h-3.53zM0.00 27.86h13.98v3.53h-13.98zM17.41 27.86h7.02v3.53h-7.02zM31.34 27.86h10.50v3.53h-10.50zM45.28 27.86h3.53v3.53h-3.53zM55.72 27.86h3.53v3.53h-3.53zM62.69 27.86h13.98v3.53h-13.98zM80.10 27.86h10.50v3.53h-10.50zM94.03 27.86h3.53v3.53h-3.53zM13.93 31.34h7.02v3.53h-7.02zM24.38 31.34h7.02v3.53h-7.02zM34.83 31.34h10.50v3.53h-10.50zM48.76 31.34h3.53v3.53h-3.53zM59.21 31.34h3.53v3.53h-3.53zM69.66 31.34h3.53v3.53h-3.53zM80.10 31.34h7.02v3.53h-7.02zM94.03 31.34h3.53v3.53h-3.53zM10.45 34.83h3.53v3.53h-3.53zM17.41 34.83h7.02v3.53h-7.02zM66.17 34.83h13.98v3.53h-13.98zM83.59 34.83h7.02v3.53h-7.02zM94.03 34.83h3.53v3.53h-3.53zM0.00 38.31h7.02v3.53h-7.02zM10.45 38.31h10.50v3.53h-10.50zM69.66 38.31h10.50v3.53h-10.50zM87.07 38.31h3.53v3.53h-3.53zM97.52 38.31h3.53v3.53h-3.53zM3.48 41.79h10.50v3.53h-10.50zM17.41 41.79h13.98v3.53h-13.98zM66.17 41.79h10.50v3.53h-10.50zM83.59 41.79h10.50v3.53h-10.50zM0.00 45.28h3.53v3.53h-3.53zM6.97 45.28h10.50v3.53h-10.50zM24.38 45.28h3.53v3.53h-3.53zM31.34 45.28h3.53v3.53h-3.53zM66.17 45.28h10.50v3.53h-10.50zM83.59 45.28h3.53v3.53h-3.53zM97.52 45.28h3.53v3.53h-3.53zM10.45 48.76h7.02v3.53h-7.02zM20.90 48.76h3.53v3.53h-3.53zM31.34 48.76h3.53v3.53h-3.53zM69.66 48.76h7.02v3.53h-7.02zM87.07 48.76h7.02v3.53h-7.02zM97.52 48.76h3.53v3.53h-3.53zM3.48 52.24h17.46v3.53h-17.46zM27.86 52.24h7.02v3.53h-7.02zM66.17 52.24h13.98v3.53h-13.98zM83.59 52.24h3.53v3.53h-3.53zM94.03 52.24h7.02v3.53h-7.02zM3.48 55.72h20.95v3.53h-20.95zM73.14 55.72h3.53v3.53h-3.53zM94.03 55.72h3.53v3.53h-3.53zM0.00 59.21h17.46v3.53h-17.46zM24.38 59.21h3.53v3.53h-3.53zM69.66 59.21h3.53v3.53h-3.53zM80.10 59.21h20.95v3.53h-20.95zM0.00 62.69h3.53v3.53h-3.53zM6.97 62.69h7.02v3.53h-7.02zM20.90 62.69h3.53v3.53h-3.53zM31.34 62.69h3.53v3.53h-3.53zM66.17 62.69h3.53v3.53h-3.53zM73.14 62.69h7.02v3.53h-7.02zM83.59 62.69h7.02v3.53h-7.02zM97.52 62.69h3.53v3.53h-3.53zM3.48 66.17h17.46v3.53h-17.46zM24.38 66.17h3.53v3.53h-3.53zM34.83 66.17h3.53v3.53h-3.53zM45.28 66.17h3.53v3.53h-3.53zM52.24 66.17h7.02v3.53h-7.02zM62.69 66.17h7.02v3.53h-7.02zM76.62 66.17h3.53v3.53h-3.53zM90.55 66.17h3.53v3.53h-3.53zM97.52 66.17h3.53v3.53h-3.53zM0.00 69.66h17.46v3.53h-17.46zM20.90 69.66h7.02v3.53h-7.02zM31.34 69.66h3.53v3.53h-3.53zM38.31 69.66h3.53v3.53h-3.53zM52.24 69.66h7.02v3.53h-7.02zM69.66 69.66h17.46v3.53h-17.46zM94.03 69.66h7.02v3.53h-7.02zM27.86 73.14h13.98v3.53h-13.98zM45.28 73.14h3.53v3.53h-3.53zM52.24 73.14h13.98v3.53h-13.98zM69.66 73.14h3.53v3.53h-3.53zM83.59 73.14h3.53v3.53h-3.53zM90.55 73.14h10.50v3.53h-10.50zM0.00 76.62h24.43v3.53h-24.43zM27.86 76.62h10.50v3.53h-10.50zM41.79 76.62h7.02v3.53h-7.02zM52.24 76.62h3.53v3.53h-3.53zM59.21 76.62h3.53v3.53h-3.53zM66.17 76.62h7.02v3.53h-7.02zM76.62 76.62h3.53v3.53h-3.53zM83.59 76.62h3.53v3.53h-3.53zM90.55 76.62h10.50v3.53h-10.50zM0.00 80.10h3.53v3.53h-3.53zM20.90 80.10h3.53v3.53h-3.53zM27.86 80.10h3.53v3.53h-3.53zM34.83 80.10h10.50v3.53h-10.50zM52.24 80.10h20.95v3.53h-20.95zM83.59 80.10h3.53v3.53h-3.53zM94.03 80.10h3.53v3.53h-3.53zM0.00 83.59h3.53v3.53h-3.53zM6.97 83.59h10.50v3.53h-10.50zM20.90 83.59h3.53v3.53h-3.53zM31.34 83.59h7.02v3.53h-7.02zM41.79 83.59h7.02v3.53h-7.02zM55.72 83.59h3.53v3.53h-3.53zM62.69 83.59h3.53v3.53h-3.53zM69.66 83.59h17.46v3.53h-17.46zM90.55 83.59h7.02v3.53h-7.02zM0.00 87.07h3.53v3.53h-3.53zM6.97 87.07h10.50v3.53h-10.50zM20.90 87.07h3.53v3.53h-3.53zM52.24 87.07h3.53v3.53h-3.53zM62.69 87.07h10.50v3.53h-10.50zM80.10 87.07h17.46v3.53h-17.46zM0.00 90.55h3.53v3.53h-3.53zM6.97 90.55h10.50v3.53h-10.50zM20.90 90.55h3.53v3.53h-3.53zM34.83 90.55h17.46v3.53h-17.46zM59.21 90.55h13.98v3.53h-13.98zM76.62 90.55h7.02v3.53h-7.02zM87.07 90.55h7.02v3.53h-7.02zM0.00 94.03h3.53v3.53h-3.53zM20.90 94.03h3.53v3.53h-3.53zM27.86 94.03h13.98v3.53h-13.98zM48.76 94.03h13.98v3.53h-13.98zM73.14 94.03h13.98v3.53h-13.98zM90.55 94.03h3.53v3.53h-3.53zM0.00 97.52h24.43v3.53h-24.43zM27.86 97.52h7.02v3.53h-7.02zM38.31 97.52h10.50v3.53h-10.50zM59.21 97.52h3.53v3.53h-3.53zM66.17 97.52h3.53v3.53h-3.53zM73.14 97.52h3.53v3.53h-3.53zM80.10 97.52h13.98v3.53h-13.98zM97.52 97.52h3.53v3.53h-3.53z" fill="#111"/></svg>
<div class="a" style="left:207px;top:4044px;width:34px;height:33px;background:#fff;overflow:hidden"><div class="a serif" style="left:4px;top:2px;font-size:13.5px;font-weight:900;color:#a31d22;letter-spacing:-.5px;font-style:italic;transform:scaleY(1.4);transform-origin:0 0">经济</div><div class="a" style="left:3px;top:24px;width:28px;height:6px;background:#1f3f7a"></div></div>
<div class="p" style="left:36.5px;width:120px;text-align:center;top:4138px;font-size:19.5px;color:#fff;font-weight:400">中经微信</div>
<div class="p" style="left:155.5px;width:140px;text-align:center;top:4138px;font-size:19.5px;color:#fff;font-weight:400">中经网WAP站</div>
<div class="p b" style="left:300px;top:4005.5px;font-size:19.5px;color:#fff;letter-spacing:.9px">经济日报-中国经济网出品</div>
<div class="p" style="left:299px;top:4040.5px;font-size:19px;color:#fff;font-weight:400"><b>资料来源：</b>国家统计局、经济日报等</div>
<div class="p" style="left:300px;top:4078px;font-size:19.5px;color:#fff"><b>统筹：</b></div><div class="p" style="left:363px;top:4078px;font-size:19.5px;color:#fff;font-weight:400">李焱</div>
<div class="p" style="left:300px;top:4108px;font-size:19.5px;color:#fff"><b>编辑：</b></div><div class="p" style="left:363px;top:4108px;font-size:19.5px;color:#fff;font-weight:400">邓浩<span class="dn">、</span>年巍<span class="dn">、</span>武晓娟<span class="dn">、</span>臧梦雅</div>
<div class="p" style="left:300px;top:4138px;font-size:19.5px;color:#fff"><b>制作：</b></div><div class="p" style="left:363px;top:4138px;font-size:19.5px;color:#fff;font-weight:400">周梓芸</div>
<!-- corner mark -->
<svg class="a" style="left:536px;top:4203px" width="36" height="30" viewBox="0 0 36 30"><path d="M3 10Q1 3 9 3Q13 0 18 1Q23 0 27 3Q35 3 33 10Q34 17 28 18Q27 24 24 27Q23 22 21 19Q22 26 18 29Q14 26 15 19Q13 22 12 27Q9 24 8 18Q2 17 3 10Z" fill="#9aa3b3"/><circle cx="13" cy="11" r="1.2" fill="#2e3b58"/><circle cx="23" cy="11" r="1.2" fill="#2e3b58"/></svg>
<div class="a serif b" style="left:572px;top:4206px;font-size:14.5px;color:#fff;letter-spacing:3.5px;font-style:italic">大西北</div>
<div class="a b" style="left:569px;top:4222.5px;font-size:8.4px;color:#fff;letter-spacing:0">www.dxbei.com</div>
<!--BODY-->

</body>
</html>
